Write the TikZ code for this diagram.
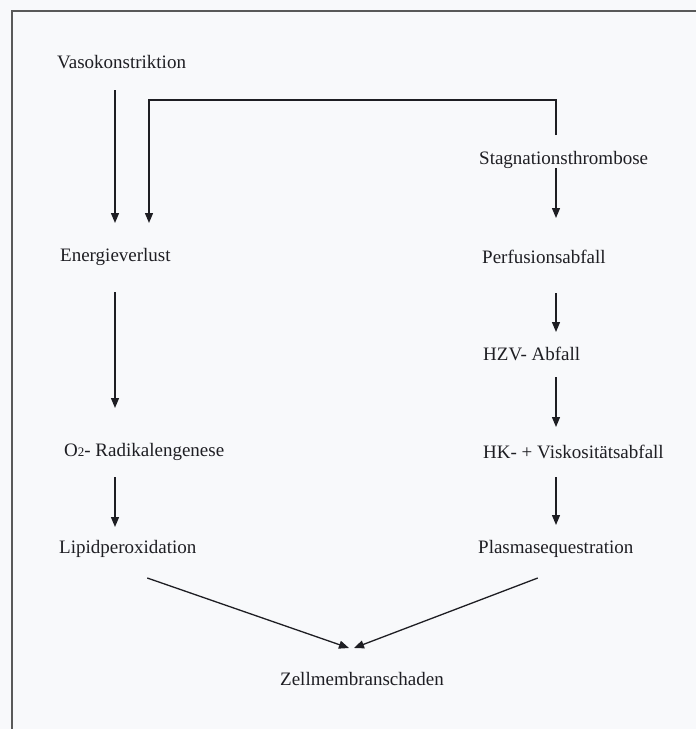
\documentclass[tikz,border=0pt]{standalone}
\usepackage{fontspec}
\setmainfont{Liberation Serif}
\usetikzlibrary{arrows.meta}

\definecolor{paper}{RGB}{248,249,251}
\definecolor{ink}{RGB}{30,30,35}

\begin{document}
\begin{tikzpicture}[
  x=1pt, y=-1pt,
  every node/.style={font=\rmfamily\fontsize{19}{22}\selectfont, text=ink, inner sep=0pt, anchor=west},
  flow/.style={-{Triangle[length=10pt,width=8pt]}, line width=1.3pt, draw=ink},
  frame/.style={line width=1.4pt, draw=black!65}
]

% ---------- Sheet and frame ----------
\useasboundingbox (0,0) rectangle (696,729);
\fill[paper] (0,0) rectangle (696,729);
\draw[frame] (696,11) -- (12,11) -- (12,729);

% ---------- Columns ----------
\coordinate (lcol) at (115,0);
\coordinate (rcol) at (556,0);
\coordinate (fb) at (149,100);

% ---------- Left chain ----------
\node (vaso) at (57,62) {Vasokonstriktion};
\node (energie) at (60,257) {Energieverlust};
\node (radikal) at (64,452) {O{\fontsize{13}{13}\selectfont 2}- Radikalengenese};
\node (lipid) at (59,549) {Lipidperoxidation};

% ---------- Right chain ----------
\node (stag) at (479,160) {Stagnationsthrombose};
\node (perf) at (482,257) {Perfusionsabfall};
\node (hzv) at (483,354) {HZV- Abfall};
\node (hk) at (483,452) {HK- + Viskositätsabfall};
\node (plasma) at (478,549) {Plasmasequestration};

% ---------- Result ----------
\node (zell) at (280,679) {Zellmembranschaden};

% ---------- Left arrows ----------
\draw[flow, shorten <=28pt, shorten >=34pt] (vaso -| lcol) -- (energie -| lcol);
\draw[flow, shorten <=35pt, shorten >=44pt] (energie -| lcol) -- (radikal -| lcol);
\draw[flow, shorten <=25pt, shorten >=22pt] (radikal -| lcol) -- (lipid -| lcol);

% ---------- Feedback: Stagnationsthrombose -> Energieverlust ----------
\draw[flow, shorten <=25pt, shorten >=34pt] (stag -| rcol) |- (fb) -- (energie -| fb);

% ---------- Right arrows ----------
\draw[flow, shorten <=8pt, shorten >=39pt] (stag -| rcol) -- (perf -| rcol);
\draw[flow, shorten <=36pt, shorten >=22pt] (perf -| rcol) -- (hzv -| rcol);
\draw[flow, shorten <=23pt, shorten >=25pt] (hzv -| rcol) -- (hk -| rcol);
\draw[flow, shorten <=25pt, shorten >=24pt] (hk -| rcol) -- (plasma -| rcol);

% ---------- Converging arrows ----------
\draw[flow] ([shift={(19.5,29)}]lipid.center) -- ([shift={(-13,-31)}]zell.center);
\draw[flow] ([shift={(-18,29)}]plasma.center) -- ([shift={(-8,-31)}]zell.center);

\end{tikzpicture}
\end{document}
